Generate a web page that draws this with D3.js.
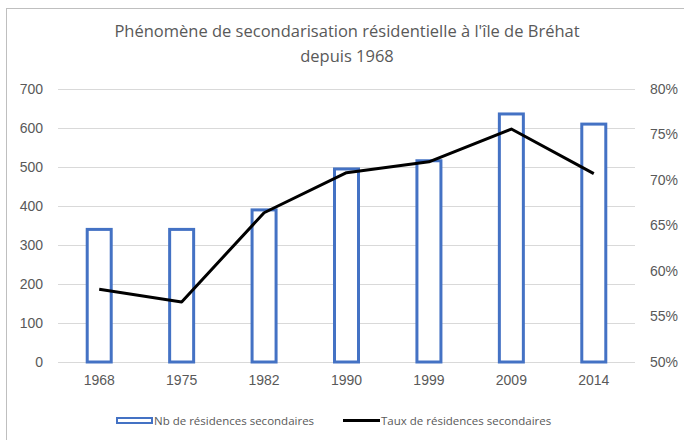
<!DOCTYPE html>
<html>
<head>
<meta charset="utf-8">
<script src="https://cdn.jsdelivr.net/npm/d3@7"></script>
<style>
	body { margin: 0; background: #fff; }
	text { font-family: "Liberation Sans", "Open Sans", sans-serif; fill: #595959; }
	.title { font-family: "Open Sans", sans-serif; }
	.legend-text { font-family: "Open Sans", sans-serif; }
</style>
</head>
<body>
<svg id="chart" width="684" height="440"></svg>
<script>
// data
var years = ['1968', '1975', '1982', '1990', '1999', '2009', '2014'];
var nbSecondaires = [340, 340, 390, 495, 516, 636, 610];
var tauxSecondaires = [0.580, 0.566, 0.664, 0.708, 0.720, 0.756, 0.707];
var leftTicks = [0, 100, 200, 300, 400, 500, 600, 700];
var rightTicks = [0.50, 0.55, 0.60, 0.65, 0.70, 0.75, 0.80];

var svg = d3.select('#chart');
var plot = { left: 58, right: 635, top: 89, bottom: 362 };

// frame
svg.append('rect')
	.attr('x', 6.5).attr('y', 8.5)
	.attr('width', 700).attr('height', 460)
	.attr('fill', 'none')
	.attr('stroke', '#bfbfbf');

// title
var title = svg.append('text')
	.attr('class', 'title')
	.attr('text-anchor', 'middle')
	.style('font-size', '16.5px');
title.append('tspan').attr('x', 347).attr('y', 37).text('Phénomène de secondarisation résidentielle à l\'île de Bréhat');
title.append('tspan').attr('x', 347).attr('y', 62).text('depuis 1968');

var x = d3.scaleBand().domain(years).range([plot.left, plot.right]).paddingInner(0).paddingOuter(0);
var yLeft = d3.scaleLinear().domain([0, 700]).range([plot.bottom, plot.top]);
var yRight = d3.scaleLinear().domain([0.5, 0.8]).range([plot.bottom, plot.top]);

// gridlines
svg.append('g').selectAll('line')
	.data(leftTicks)
	.enter().append('line')
	.attr('x1', plot.left).attr('x2', plot.right)
	.attr('y1', function(d) { return Math.round(yLeft(d)) + 0.5; })
	.attr('y2', function(d) { return Math.round(yLeft(d)) + 0.5; })
	.attr('stroke', '#d9d9d9');

// left axis
var leftAxis = svg.append('g')
	.attr('transform', 'translate(' + plot.left + ',0)')
	.call(d3.axisLeft(yLeft).tickValues(leftTicks).tickSize(0).tickPadding(15));
leftAxis.select('.domain').remove();
leftAxis.selectAll('text').style('font-size', '14px').attr('fill', '#595959');

// right axis
var rightAxis = svg.append('g')
	.attr('transform', 'translate(' + plot.right + ',0)')
	.call(d3.axisRight(yRight).tickValues(rightTicks).tickFormat(d3.format('.0%')).tickSize(0).tickPadding(15));
rightAxis.select('.domain').remove();
rightAxis.selectAll('text').style('font-size', '14px').attr('fill', '#595959');

// bottom axis
var bottomAxis = svg.append('g')
	.attr('transform', 'translate(0,' + plot.bottom + ')')
	.call(d3.axisBottom(x).tickSize(0).tickPadding(13));
bottomAxis.select('.domain').remove();
bottomAxis.selectAll('text').style('font-size', '14px').attr('fill', '#595959');

// bars (outlined)
var barW = 24;
svg.append('g').selectAll('rect')
	.data(nbSecondaires)
	.enter().append('rect')
	.attr('x', function(d, i) { return x(years[i]) + x.bandwidth() / 2 - barW / 2; })
	.attr('y', function(d) { return yLeft(d); })
	.attr('width', barW)
	.attr('height', function(d) { return plot.bottom - yLeft(d); })
	.attr('fill', '#fff')
	.attr('stroke', '#4472c4')
	.attr('stroke-width', 3);

// line
var line = d3.line()
	.x(function(d, i) { return x(years[i]) + x.bandwidth() / 2; })
	.y(function(d) { return yRight(d); });
svg.append('path')
	.datum(tauxSecondaires)
	.attr('d', line)
	.attr('fill', 'none')
	.attr('stroke', '#000')
	.attr('stroke-width', 3)
	.attr('stroke-linejoin', 'round');

// legend
var legend = svg.append('g');
legend.append('rect')
	.attr('x', 117).attr('y', 418)
	.attr('width', 35).attr('height', 5)
	.attr('fill', '#fff').attr('stroke', '#4472c4').attr('stroke-width', 2);
legend.append('text')
	.attr('class', 'legend-text')
	.attr('x', 154).attr('y', 424.5)
	.style('font-size', '11.5px')
	.text('Nb de résidences secondaires');
legend.append('line')
	.attr('x1', 343).attr('x2', 380)
	.attr('y1', 420.5).attr('y2', 420.5)
	.attr('stroke', '#000').attr('stroke-width', 3);
legend.append('text')
	.attr('class', 'legend-text')
	.attr('x', 381).attr('y', 424.5)
	.style('font-size', '11.5px')
	.text('Taux de résidences secondaires');
</script>
</body>
</html>
